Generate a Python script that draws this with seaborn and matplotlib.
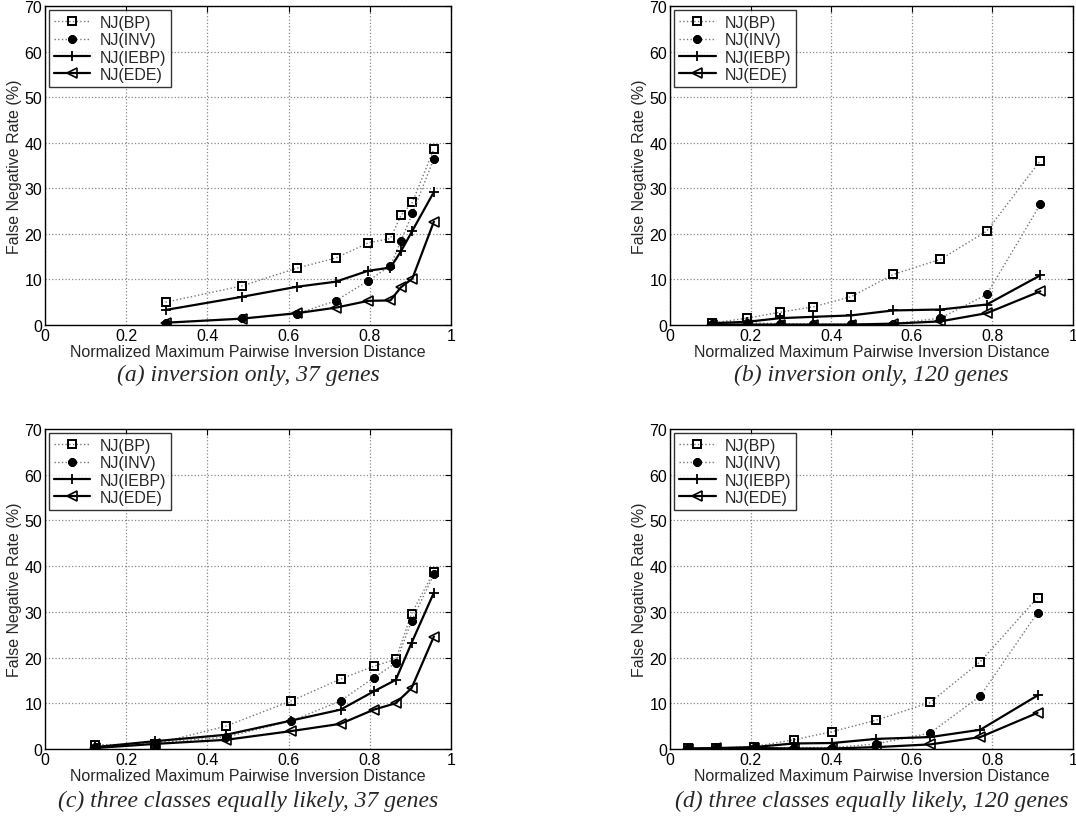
"""
False negative rates of NJ variants vs. normalized max pairwise inversion distance.
Four panels: inversion only / three classes, 37 and 120 genes.
"""

import matplotlib
matplotlib.use("Agg")
import matplotlib.pyplot as plt
import seaborn as sns

# --- (a) inversion only, 37 genes
x_a = [0.297, 0.486, 0.621, 0.716, 0.796, 0.851, 0.877, 0.905, 0.958]
bp_a = [5.0, 8.6, 12.5, 14.7, 18.0, 19.0, 24.1, 26.9, 38.7]
inv_a = [0.5, 1.5, 2.5, 5.3, 9.7, 13.0, 18.5, 24.5, 36.5]
iebp_a = [3.3, 6.2, 8.4, 9.5, 11.9, 12.6, 16.2, 20.7, 29.2]
ede_a = [0.5, 1.4, 2.6, 3.8, 5.3, 5.4, 8.3, 10.2, 22.7]

# --- (b) inversion only, 120 genes
x_b = [0.103, 0.191, 0.273, 0.356, 0.449, 0.554, 0.671, 0.786, 0.919]
bp_b = [0.4, 1.5, 2.8, 4.0, 6.2, 11.1, 14.4, 20.6, 36.1]
inv_b = [0.3, 0.5, 0.3, 0.2, 0.2, 0.3, 1.5, 6.7, 26.5]
iebp_b = [0.4, 0.7, 1.5, 1.8, 2.1, 3.2, 3.4, 4.5, 10.9]
ede_b = [0.1, 0.1, 0.1, 0.1, 0.1, 0.3, 0.8, 2.6, 7.4]

# --- (c) three classes equally likely, 37 genes
x_c = [0.123, 0.271, 0.446, 0.606, 0.728, 0.810, 0.864, 0.903, 0.958]
bp_c = [0.9, 1.1, 5.0, 10.5, 15.3, 18.1, 19.6, 29.6, 38.8]
inv_c = [0.5, 1.3, 2.6, 6.1, 10.5, 15.6, 18.8, 28.0, 38.2]
iebp_c = [0.4, 1.7, 3.1, 6.2, 8.6, 12.6, 15.1, 23.2, 34.2]
ede_c = [0.2, 1.1, 2.0, 3.9, 5.5, 8.6, 10.0, 13.3, 24.6]

# --- (d) three classes equally likely, 120 genes
x_d = [0.045, 0.115, 0.208, 0.307, 0.403, 0.512, 0.646, 0.770, 0.912]
bp_d = [0.1, 0.2, 0.5, 2.0, 3.8, 6.3, 10.2, 19.1, 33.1]
inv_d = [0.1, 0.1, 0.3, 0.3, 0.3, 1.1, 3.5, 11.6, 29.8]
iebp_d = [0.1, 0.2, 0.4, 1.2, 1.3, 2.2, 2.6, 4.2, 11.7]
ede_d = [0.0, 0.1, 0.2, 0.1, 0.1, 0.4, 1.0, 2.6, 7.9]

series_names = ["NJ(BP)", "NJ(INV)", "NJ(IEBP)", "NJ(EDE)"]
captions = [
    "(a) inversion only, 37 genes",
    "(b) inversion only, 120 genes",
    "(c) three classes equally likely, 37 genes",
    "(d) three classes equally likely, 120 genes",
]
x_ticks = [0, 0.2, 0.4, 0.6, 0.8, 1]
x_tick_labels = ["0", "0.2", "0.4", "0.6", "0.8", "1"]
y_ticks = [0, 10, 20, 30, 40, 50, 60, 70]

panels = [
    (x_a, [bp_a, inv_a, iebp_a, ede_a]),
    (x_b, [bp_b, inv_b, iebp_b, ede_b]),
    (x_c, [bp_c, inv_c, iebp_c, ede_c]),
    (x_d, [bp_d, inv_d, iebp_d, ede_d]),
]

# line / marker styles per series (MATLAB look)
styles = [
    dict(linestyle=":", color="#777777", marker="s", markersize=5.5,
         markerfacecolor="none", markeredgecolor="black", markeredgewidth=1.4, linewidth=1.0),
    dict(linestyle=":", color="#777777", marker=(8, 2, 0), markersize=6,
         markerfacecolor="black", markeredgecolor="black", markeredgewidth=2.2, linewidth=1.0),
    dict(linestyle="-", color="black", marker="+", markersize=7,
         markeredgecolor="black", markeredgewidth=1.3, linewidth=1.6),
    dict(linestyle="-", color="black", marker="<", markersize=7,
         markerfacecolor="none", markeredgecolor="black", markeredgewidth=1.2, linewidth=1.6),
]

sns.set_theme(style="white")
plt.rcParams["font.family"] = ["Liberation Sans", "DejaVu Sans"]

fig = plt.figure(figsize=(10.76, 8.37), dpi=100)

# axes boxes in figure fraction: left, bottom, width, height
boxes = [
    [0.0418, 0.6105, 0.3773, 0.3811],
    [0.6227, 0.6105, 0.3745, 0.3811],
    [0.0418, 0.1040, 0.3773, 0.3823],
    [0.6227, 0.1040, 0.3745, 0.3823],
]
caption_y = [0.552, 0.042]

for i, (xs, ys_list) in enumerate(panels):
    ax = fig.add_axes(boxes[i])
    for name, ys, st in zip(series_names, ys_list, styles):
        sns.lineplot(x=xs, y=ys, ax=ax, label=name, sort=False, **st)

    ax.set_xlim(0, 1)
    ax.set_ylim(0, 70)
    ax.set_xticks(x_ticks)
    ax.set_xticklabels(x_tick_labels)
    ax.set_yticks(y_ticks)
    ax.tick_params(direction="in", length=4, width=0.8, labelsize=11.5,
                   colors="black", top=True, right=True, pad=2)
    ax.grid(True, linestyle=":", color="#888888", linewidth=0.9)
    for sp in ax.spines.values():
        sp.set_color("black")
        sp.set_linewidth(1.0)

    ax.set_xlabel("Normalized Maximum Pairwise Inversion Distance", fontsize=11.5, labelpad=1)
    ax.set_ylabel("False Negative Rate (%)", fontsize=11.5, labelpad=2)

    leg = ax.legend(loc="upper left", fontsize=11.5, frameon=True, fancybox=False,
                    edgecolor="black", borderaxespad=0.25, handlelength=2.3,
                    handletextpad=0.6, labelspacing=0.15, borderpad=0.3)
    leg.get_frame().set_linewidth(1.0)

    # caption below each panel
    cx = boxes[i][0] + boxes[i][2] / 2
    fig.text(cx, caption_y[i // 2], captions[i], ha="center", va="center",
             fontsize=17, style="italic", family=["Liberation Serif", "DejaVu Serif"])

fig.savefig("out.png", dpi=100)
plt.close(fig)
